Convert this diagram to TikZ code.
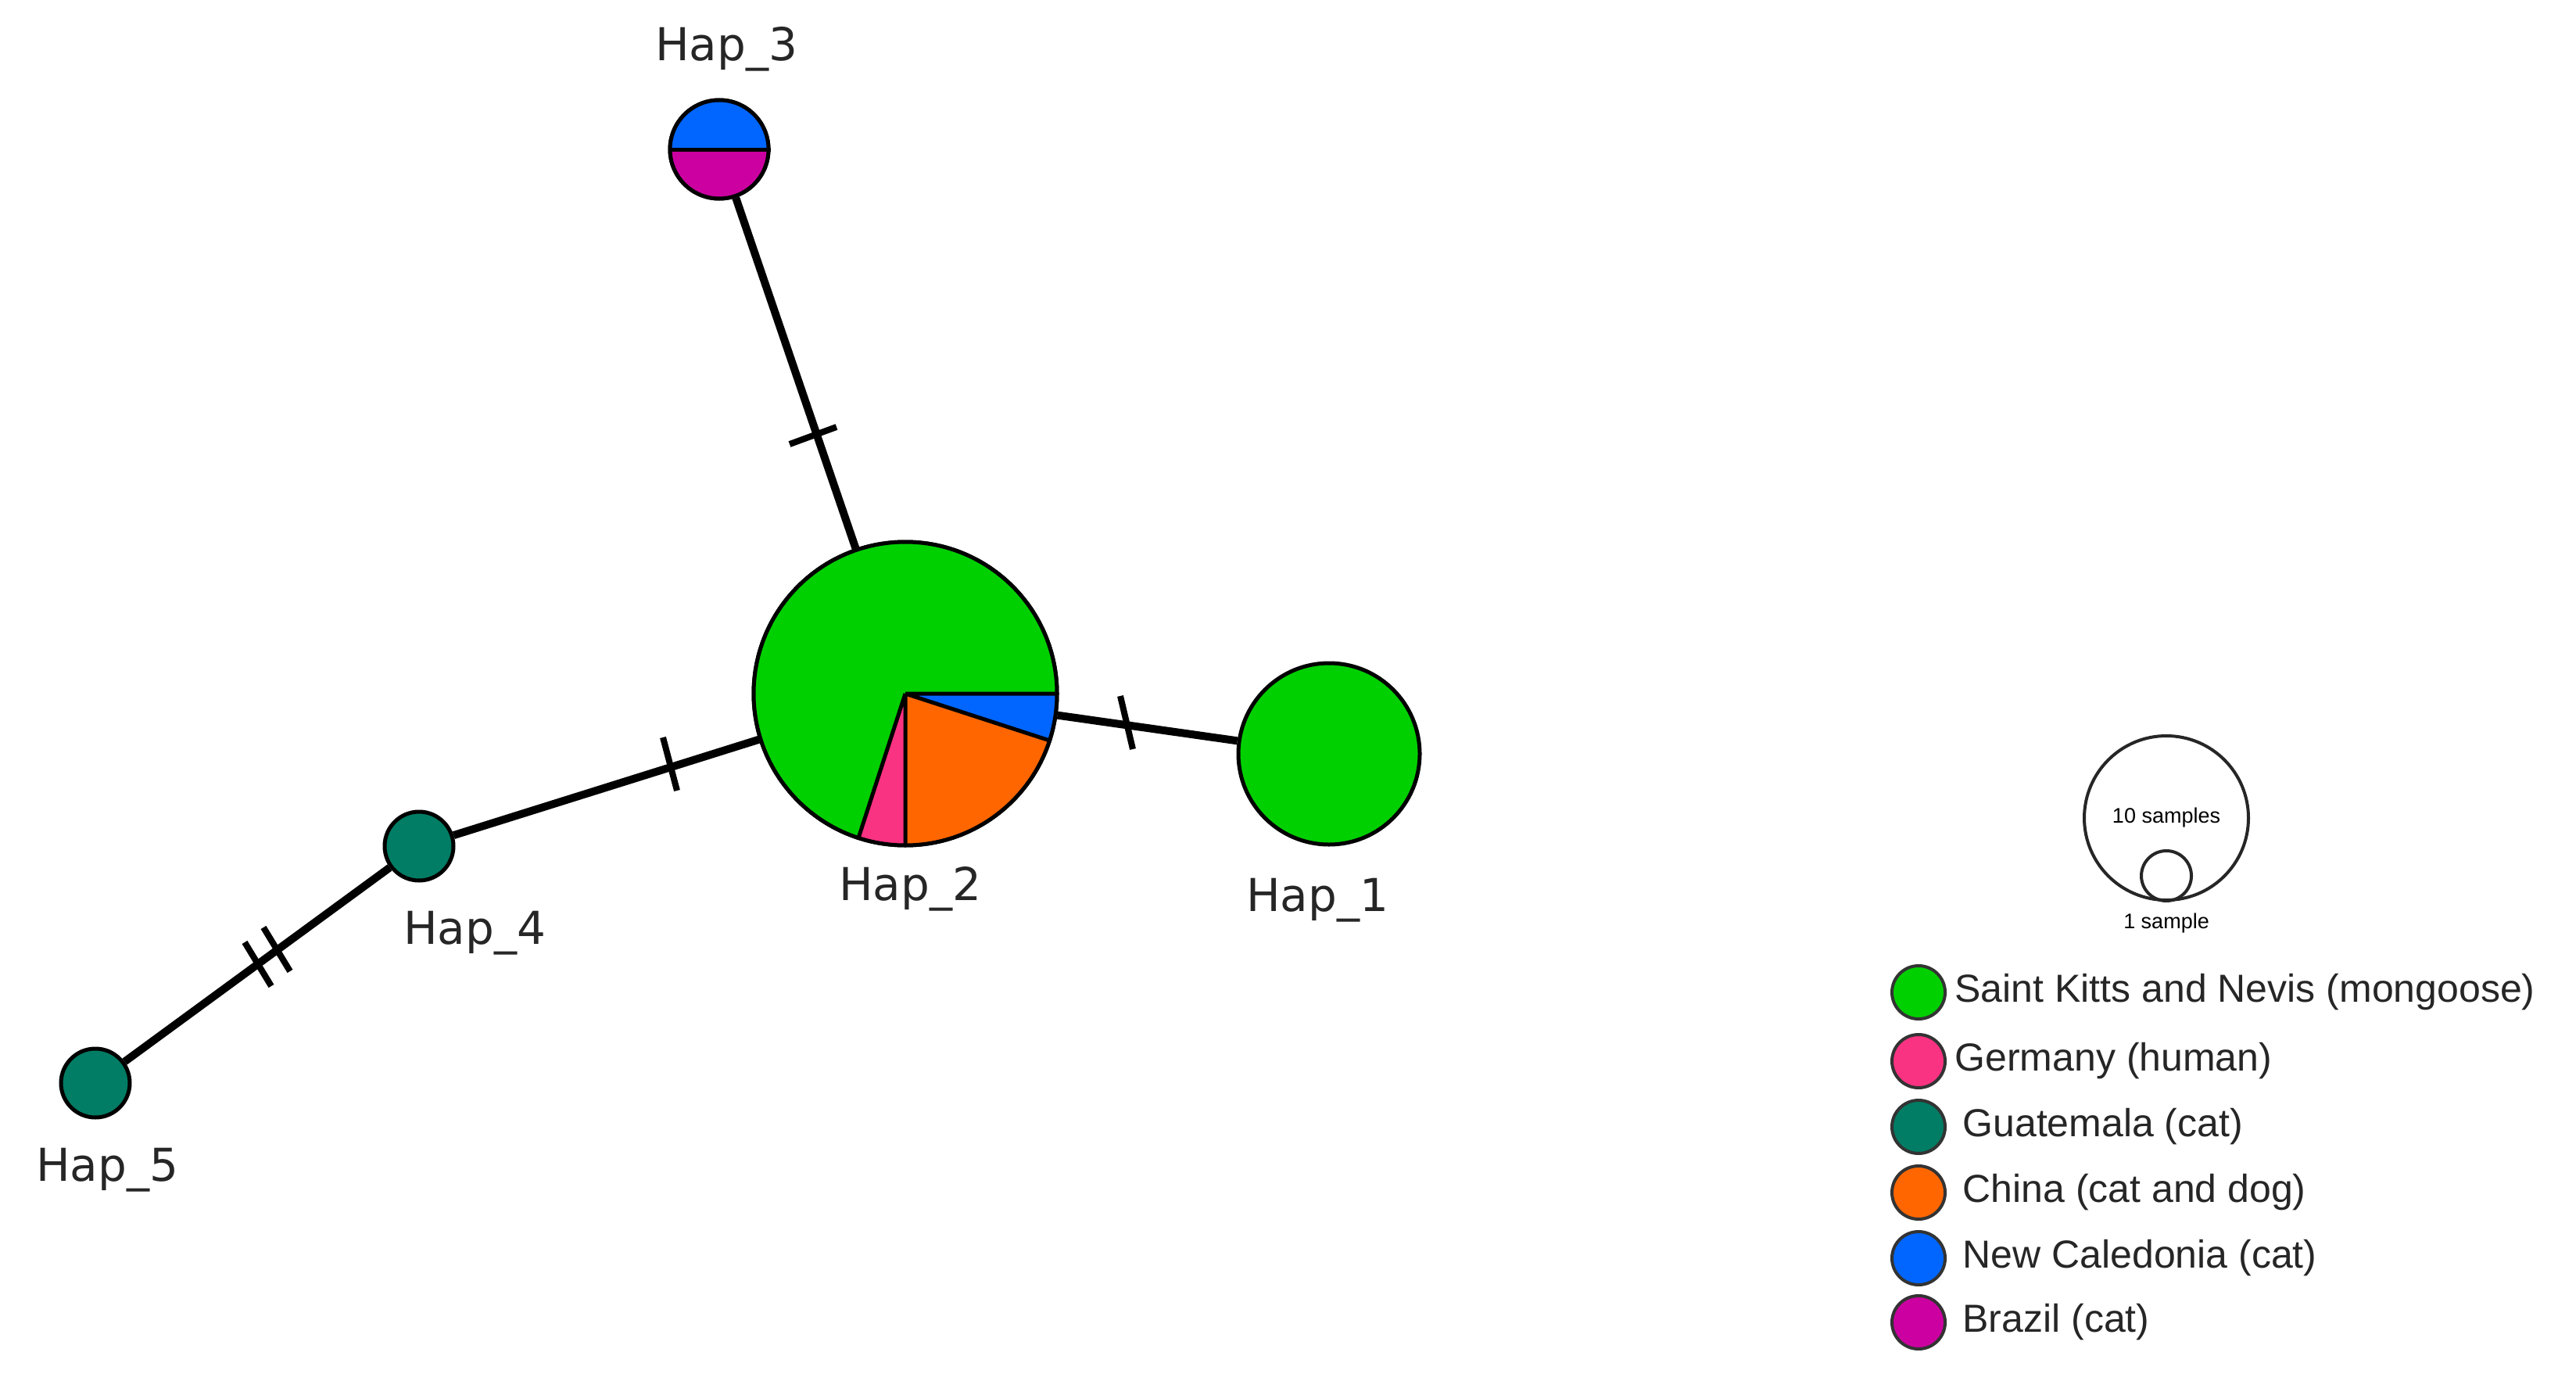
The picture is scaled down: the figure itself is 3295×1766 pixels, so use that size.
\documentclass[tikz,border=0pt]{standalone}
\usepackage{fontspec}
\setmainfont{Liberation Sans}
\newfontfamily\hapfont{DejaVu Sans}
\definecolor{cgreen}{RGB}{0,208,0}
\definecolor{cpink}{RGB}{250,50,130}
\definecolor{cteal}{RGB}{0,125,100}
\definecolor{corange}{RGB}{255,102,0}
\definecolor{cblue}{RGB}{0,102,255}
\definecolor{cmag}{RGB}{204,0,160}
\tikzset{
  hap/.style={circle,draw=black,line width=5pt,inner sep=0pt,minimum size=#1},
  edge/.style={line width=10pt},
  tick/.style={line width=8pt},
  haplab/.style={font=\hapfont\fontsize{58}{60}\selectfont,text=black!85},
  leglab/.style={font=\fontsize{50}{56}\selectfont,anchor=west,text=black!85},
  legdot/.style={circle,draw=black!80,line width=4pt,inner sep=0pt,minimum size=68pt},
}
\begin{document}
\begin{tikzpicture}[x=1pt,y=-1pt]
\useasboundingbox (0,0) rectangle (3295,1766);
% nodes
\node[hap=388pt] (h2) at (1158,887) {};
\node[hap=232pt,fill=cgreen] (h1) at (1700,964) {};
\node[hap=126pt] (h3) at (920,191) {};
\node[hap=88pt,fill=cteal] (h4) at (536,1082) {};
\node[hap=88pt,fill=cteal] (h5) at (122,1385) {};
% edges
\draw[edge] (h3) -- (h2);
\draw[edge] (h2) -- (h1);
\draw[edge] (h2) -- (h4);
\draw[edge] (h4) -- (h5);
% pie for Hap_2 (y axis points down, so angles are mirrored)
\fill[cgreen] (h2.center) circle (194);
\fill[cblue] (h2.center) -- ++(0:194) arc[start angle=0,end angle=18,radius=194] -- cycle;
\fill[corange] (h2.center) -- ++(18:194) arc[start angle=18,end angle=90,radius=194] -- cycle;
\fill[cpink] (h2.center) -- ++(90:194) arc[start angle=90,end angle=108,radius=194] -- cycle;
\draw[line width=5pt] (h2.center) -- ++(0:194) (h2.center) -- ++(18:194) (h2.center) -- ++(90:194) (h2.center) -- ++(108:194);
\draw[line width=5pt] (h2.center) circle (194);
% Hap_3 halves
\fill[cblue] (h3.center) -- ++(0:63) arc[start angle=0,end angle=-180,radius=63] -- cycle;
\fill[cmag] (h3.center) -- ++(0:63) arc[start angle=0,end angle=180,radius=63] -- cycle;
\draw[line width=5pt] (h3.center) circle (63);
\draw[line width=5pt] (h3.west) -- (h3.east);
% ticks
\draw[tick] (1040,557) ++(-30,11) -- ++(60,-22);
\draw[tick] (1441,924) ++(-8,-34) -- ++(16,68);
\draw[tick] (857,977) ++(-9,-34) -- ++(18,68);
\draw[tick] (330,1233) ++(-17,-28) -- ++(34,56);
\draw[tick] (354,1214) ++(-17,-28) -- ++(34,56);
% labels
\node[haplab] (l3) at (929,63) {Hap\_3};
\node[haplab] (l2) at (1164,1137) {Hap\_2};
\node[haplab] (l1) at (1685,1151) {Hap\_1};
\node[haplab] (l4) at (607,1193) {Hap\_4};
\node[haplab] (l5) at (137,1496) {Hap\_5};
% size legend
\node[circle,draw=black!85,line width=4pt,minimum size=210pt,inner sep=0pt] (big) at (2771,1046) {};
\node[circle,draw=black!85,line width=4pt,minimum size=64pt,inner sep=0pt] (small) at (2771,1120) {};
\node[font=\fontsize{27}{28}\selectfont] (t10) at (2771,1046) {10 samples};
\node[font=\fontsize{27}{28}\selectfont] (t1) at (2771,1181) {1 sample};
% colour legend
\node[legdot,fill=cgreen] (d1) at (2454,1269) {};
\node[legdot,fill=cpink] (d2) at (2454,1357) {};
\node[legdot,fill=cteal] (d3) at (2454,1441) {};
\node[legdot,fill=corange] (d4) at (2454,1525) {};
\node[legdot,fill=cblue] (d5) at (2454,1609) {};
\node[legdot,fill=cmag] (d6) at (2454,1691) {};
\node[leglab] at (2497,1269) {Saint Kitts and Nevis (mongoose)};
\node[leglab] at (2497,1357) {Germany (human)};
\node[leglab] at (2507,1441) {Guatemala (cat)};
\node[leglab] at (2507,1525) {China (cat and dog)};
\node[leglab] at (2507,1609) {New Caledonia (cat)};
\node[leglab] at (2507,1691) {Brazil (cat)};
\end{tikzpicture}
\end{document}
